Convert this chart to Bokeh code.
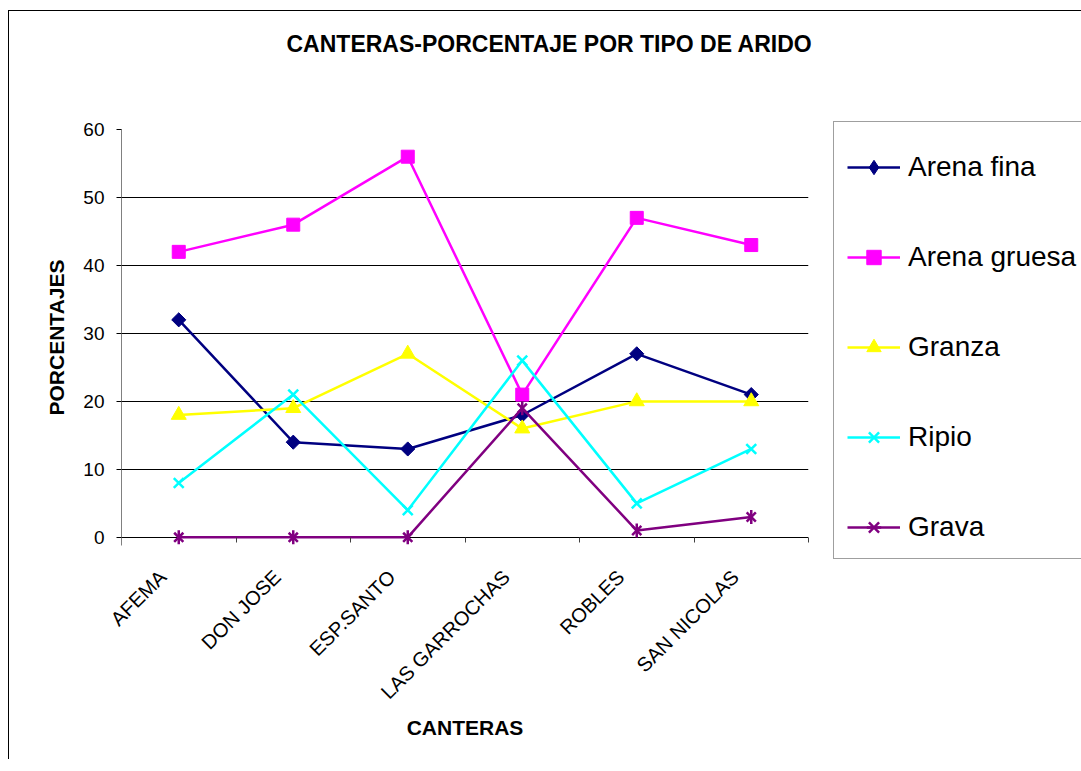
import math
from bokeh.plotting import figure
from bokeh.models import Range1d, FixedTicker, Grid, Legend, LegendItem, Title
from bokeh.embed import file_html
from bokeh.resources import INLINE

canteras = ["AFEMA", "DON JOSE", "ESP.SANTO", "LAS GARROCHAS", "ROBLES", "SAN NICOLAS"]
arena_fina = [32, 14, 13, 18, 27, 21]
arena_gruesa = [42, 46, 56, 21, 47, 43]
granza = [18, 19, 27, 16, 20, 20]
ripio = [8, 21, 4, 26, 5, 13]
grava = [0, 0, 0, 19, 1, 3]
y_ticks = [0, 10, 20, 30, 40, 50, 60]

x = list(range(len(canteras)))
FONT = "Liberation Sans"

p = figure(title=None, frame_width=687, frame_height=416,
           min_border_left=112, min_border_right=273,
           min_border_top=118, min_border_bottom=214,
           x_range=Range1d(-0.5, len(canteras) - 0.5),
           y_range=Range1d(-1.2, y_ticks[-1]),
           output_backend="svg", toolbar_location=None)
p.styles = {"border-left": "1px solid #000", "border-top": "1px solid #000",
            "margin-left": "8px", "margin-top": "10px"}
p.outline_line_color = None
p.background_fill_color = "white"
p.border_fill_color = "white"

# blank spacer next to the plot area, then the real title above it
spacer = Title(text=" ", text_color="white", text_font_size="10px", standoff=55)
p.add_layout(spacer, "above")
main_title = Title(text="CANTERAS-PORCENTAJE POR TIPO DE ARIDO", align="left", offset=165,
                   standoff=10, text_font=FONT, text_font_size="23px",
                   text_font_style="bold", text_color="black")
p.add_layout(main_title, "above")

# x axis: labels centred on categories, tick marks at category boundaries
shift = 0.14
label_pos = [round(i - shift, 2) for i in x]
p.xaxis.ticker = FixedTicker(ticks=label_pos, minor_ticks=[i - 0.5 for i in range(len(canteras) + 1)])
p.xaxis.major_label_overrides = {pos: c for pos, c in zip(label_pos, canteras)}
p.xaxis.major_tick_line_color = None
p.xaxis.major_tick_in = 0
p.xaxis.major_tick_out = 0
p.xaxis.minor_tick_line_color = "#404040"
p.xaxis.minor_tick_in = 8
p.xaxis.minor_tick_out = -3
p.xaxis.axis_line_color = None
p.xaxis.major_label_orientation = math.pi / 4
p.xaxis.major_label_text_font = FONT
p.xaxis.major_label_text_font_size = "20px"
p.xaxis.major_label_text_color = "black"
p.xaxis.major_label_standoff = 28
p.xaxis.axis_label = "CANTERAS"
p.xaxis.axis_label_text_font = FONT
p.xaxis.axis_label_text_font_size = "21px"
p.xaxis.axis_label_text_font_style = "bold"
p.xaxis.axis_label_text_color = "black"
p.xaxis.axis_label_standoff = 2

# y axis
p.yaxis.ticker = FixedTicker(ticks=y_ticks)
p.yaxis.axis_line_color = "#808080"
p.yaxis.major_tick_out = 5
p.yaxis.major_tick_in = 0
p.yaxis.major_tick_line_color = "black"
p.yaxis.minor_tick_line_color = None
p.yaxis.major_label_standoff = 12
p.yaxis.major_label_text_font = FONT
p.yaxis.major_label_text_font_size = "19px"
p.yaxis.major_label_text_color = "black"
p.yaxis.axis_label = "PORCENTAJES"
p.yaxis.axis_label_text_font = FONT
p.yaxis.axis_label_text_font_size = "21px"
p.yaxis.axis_label_text_font_style = "bold"
p.yaxis.axis_label_text_color = "black"
p.yaxis.axis_label_standoff = 12

# grid
p.xgrid.visible = False
p.ygrid.ticker = FixedTicker(ticks=y_ticks[:-1])
p.ygrid.grid_line_color = "black"
p.ygrid.grid_line_width = 1
p.add_layout(Grid(dimension=1, ticker=FixedTicker(ticks=[y_ticks[-1]]), grid_line_color="#b4b4b4"))

LW = 2.5
items = []

# Arena fina (thin diamond used for the legend sits under the rotated square)
c = "#000080"
l = p.line(x, arena_fina, line_color=c, line_width=LW)
d = p.scatter(x, arena_fina, marker="diamond", size=10, fill_color=c, line_color=c)
p.scatter(x, arena_fina, marker="square", angle=math.pi / 4, size=10, fill_color=c, line_color=c)
items.append(LegendItem(label="Arena fina", renderers=[l, d]))

# Arena gruesa
c = "#FF00FF"
l = p.line(x, arena_gruesa, line_color=c, line_width=LW)
m = p.scatter(x, arena_gruesa, marker="square", size=13, fill_color=c, line_color=c)
items.append(LegendItem(label="Arena gruesa", renderers=[l, m]))

# Granza
c = "#FFFF00"
l = p.line(x, granza, line_color=c, line_width=LW)
m = p.scatter(x, granza, marker="triangle", size=15, fill_color=c, line_color=c)
items.append(LegendItem(label="Granza", renderers=[l, m]))

# Ripio
c = "#00FFFF"
l = p.line(x, ripio, line_color=c, line_width=LW)
m = p.scatter(x, ripio, marker="x", size=14, line_color=c, line_width=2.5)
items.append(LegendItem(label="Ripio", renderers=[l, m]))

# Grava
c = "#800080"
l = p.line(x, grava, line_color=c, line_width=LW)
m1 = p.scatter(x, grava, marker="x", size=13, line_color=c, line_width=2.5)
m2 = p.scatter(x, grava, marker="dash", angle=math.pi / 2, size=14, line_color=c, line_width=2.5)
items.append(LegendItem(label="Grava", renderers=[l, m1, m2]))

legend = Legend(items=items, location=(25, -14),
                glyph_width=53, glyph_height=36, label_height=36,
                label_standoff=8, spacing=54, padding=13, margin=0,
                label_text_font=FONT, label_text_font_size="28px", label_text_color="black",
                border_line_color="#404040", border_line_width=1,
                background_fill_color="white", background_fill_alpha=1,
                title=" ", title_text_font_size="8px", title_standoff=5)
p.add_layout(legend, "right")

open("out.html", "w").write(file_html(p, INLINE))
